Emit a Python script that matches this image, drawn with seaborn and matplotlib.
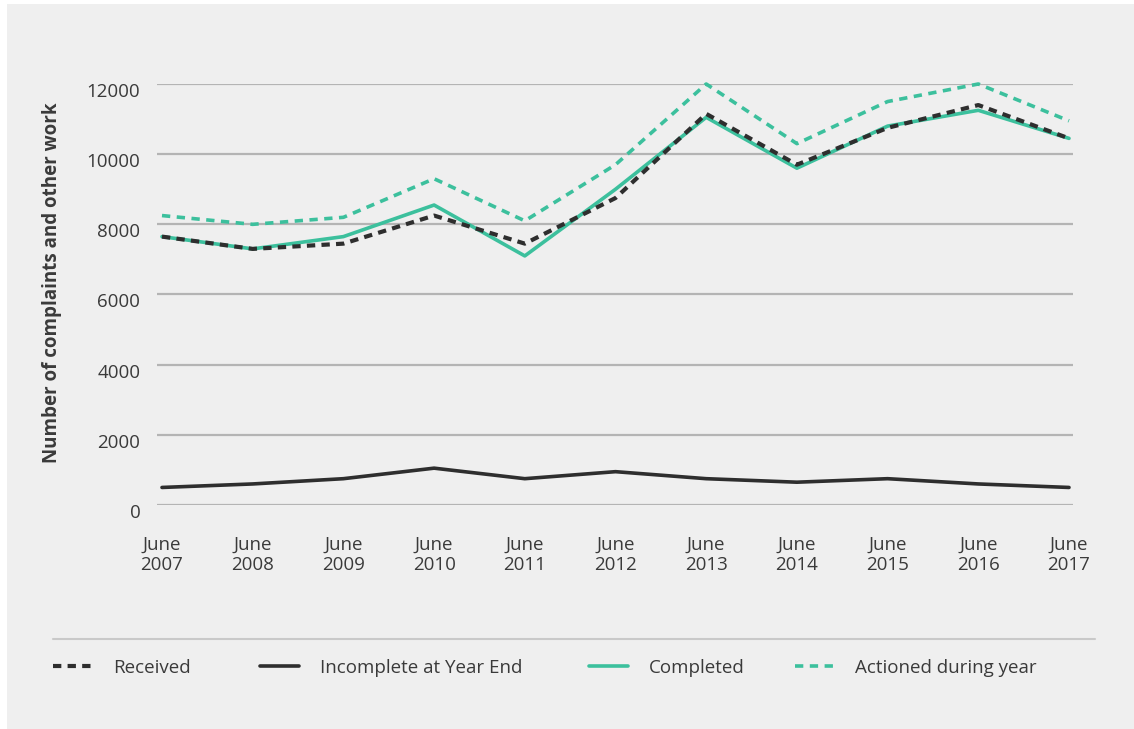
import matplotlib
matplotlib.use("Agg")
import matplotlib.pyplot as plt
import matplotlib.transforms as mtransforms
from matplotlib.lines import Line2D
from matplotlib.patches import Rectangle
import seaborn as sns
import pandas as pd

years = ["June\n2007", "June\n2008", "June\n2009", "June\n2010", "June\n2011", "June\n2012",
         "June\n2013", "June\n2014", "June\n2015", "June\n2016", "June\n2017"]
received = [7650, 7300, 7450, 8250, 7450, 8750, 11150, 9700, 10750, 11400, 10450]
incomplete = [500, 600, 750, 1050, 750, 950, 750, 650, 750, 600, 500]
completed = [7650, 7300, 7650, 8550, 7100, 9000, 11050, 9600, 10800, 11250, 10450]
actioned = [8250, 8000, 8200, 9300, 8100, 9700, 12000, 10300, 11500, 12000, 10950]
yticks = [0, 2000, 4000, 6000, 8000, 10000, 12000]

sns.set_theme(style="white")
plt.rcParams['font.family'] = ['Open Sans', 'DejaVu Sans']

BG = "#efefef"
TEAL = "#3cc09d"
DARK = "#2e2e2e"
TXT = "#3a3a3a"

fig = plt.figure(figsize=(11.34, 7.29), dpi=100)
fig.patch.set_facecolor("white")
fig.patches.append(Rectangle((7/1134, 0), 1 - 7/1134, 1 - 4/729, transform=fig.transFigure,
                             facecolor=BG, edgecolor="none", zorder=-10))

ax = fig.add_axes([157/1134, (729-505)/729, 916/1134, 421/729])
ax.set_facecolor(BG)
ax.patch.set_alpha(0)

x = list(range(len(years)))
df = pd.DataFrame({"x": x, "received": received, "incomplete": incomplete,
                   "completed": completed, "actioned": actioned})

sns.lineplot(data=df, x="x", y="actioned", ax=ax, color=TEAL, lw=2.6,
             linestyle=(0, (2.3, 1.8)), clip_on=False, label="Actioned during year")
sns.lineplot(data=df, x="x", y="completed", ax=ax, color=TEAL, lw=2.6,
             clip_on=False, label="Completed")
sns.lineplot(data=df, x="x", y="received", ax=ax, color=DARK, lw=3.0,
             linestyle=(0, (2.0, 1.5)), clip_on=False, label="Received")
sns.lineplot(data=df, x="x", y="incomplete", ax=ax, color=DARK, lw=2.6,
             clip_on=False, label="Incomplete at Year End")
ax.get_legend().remove()
lines = {l.get_label(): l for l in ax.get_lines()}

ax.set_xlim(-0.055, 10.044)
ax.set_ylim(0, 12000)
ax.set_yticks(yticks)
ax.set_yticklabels([str(v) for v in yticks])
ax.set_xticks(x)
ax.set_xticklabels(years, linespacing=1.15)
ax.grid(axis="y", color="#b4b4b4", lw=1.6)
ax.grid(axis="x", visible=False)
ax.set_axisbelow(True)
for s in ax.spines.values():
    s.set_visible(False)
ax.tick_params(axis="y", length=0, pad=12, labelsize=13.5, labelcolor=TXT)
ax.tick_params(axis="x", length=0, pad=22, labelsize=13.5, labelcolor=TXT)
off = mtransforms.ScaledTranslation(0, -6/100, fig.dpi_scale_trans)
for lab in ax.get_yticklabels():
    lab.set_transform(lab.get_transform() + off)

ax.set_xlabel("")
ax.set_ylabel("Number of complaints and other work", fontsize=13.5, fontweight="bold", color=TXT)
ax.yaxis.set_label_coords(-0.1037, 0.527)

# legend separator
fig.add_artist(Line2D([53/1134, 1095/1134], [1 - 639/729, 1 - 639/729], transform=fig.transFigure,
                      color="#c9c9c9", lw=1.5))

order = [("Received", 53), ("Incomplete at Year End", 260), ("Completed", 589), ("Actioned during year", 795)]
for name, xp in order:
    lg = fig.legend(handles=[lines[name]], labels=[name], loc="center left",
                    bbox_to_anchor=(xp/1134, 1 - 668/729), frameon=False, borderpad=0,
                    borderaxespad=0, handlelength=2.1, handletextpad=1.1, fontsize=13.5)
    for t in lg.get_texts():
        t.set_color(TXT)

fig.savefig("out.png", dpi=100, facecolor=fig.get_facecolor())
